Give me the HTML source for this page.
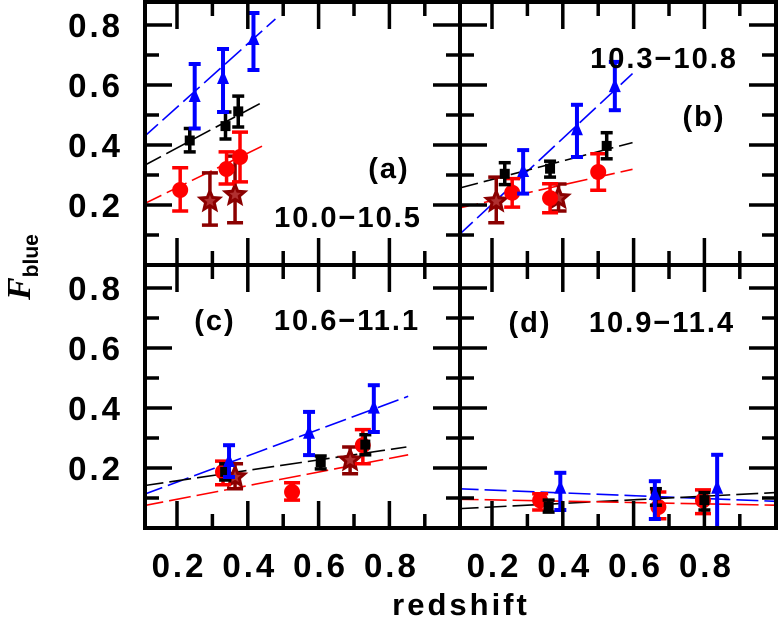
<!DOCTYPE html>
<html><head><meta charset="utf-8">
<style>
html,body{margin:0;padding:0;background:#fff;}
svg{display:block;font-family:"Liberation Sans",sans-serif;font-weight:bold;}
</style></head>
<body>
<svg id="chart" width="778" height="620" viewBox="0 0 778 620" xmlns="http://www.w3.org/2000/svg">
<g id="marks"></g>
<g id="frames"></g>
<g id="labels"></g>
</svg>
<script>
// Panel data: [x, y, errLow(value), errHigh(value)]
const panelIds = ['a','b','c','d'];
const blueA = [[0.25,0.56,0.455,0.67],[0.33,0.62,0.51,0.72],[0.416,0.75,0.65,0.84]];
const blackA = [[0.236,0.415,0.377,0.455],[0.337,0.463,0.42,0.51],[0.373,0.512,0.46,0.563]];
const redA = [[0.209,0.25,0.18,0.324],[0.34,0.32,0.27,0.377],[0.378,0.36,0.277,0.443]];
const starA = [[0.293,0.213,0.133,0.307],[0.364,0.234,0.141,0.363]];
const blueFitA = [[0.1,0.42],[0.478,0.82]];
const blackFitA = [[0.1,0.327],[0.442,0.543]];
const redFitA = [[0.1,0.2],[0.442,0.397]];

const blueB = [[0.288,0.31,0.238,0.383],[0.44,0.449,0.36,0.534],[0.547,0.593,0.516,0.677]];
const blackB = [[0.236,0.304,0.268,0.341],[0.364,0.321,0.293,0.346],[0.524,0.397,0.354,0.441]];
const redB = [[0.257,0.241,0.193,0.288],[0.364,0.223,0.174,0.271],[0.5,0.31,0.249,0.371]];
const starB = [[0.212,0.212,0.141,0.293],[0.388,0.223,0.18,0.27]];
const blueFitB = [[0.1,0.093],[0.597,0.638]];
const blackFitB = [[0.1,0.254],[0.597,0.408]];
const redFitB = [[0.1,0.188],[0.597,0.319]];

const blueC = [[0.347,0.22,0.17,0.276],[0.573,0.314,0.243,0.387],[0.756,0.398,0.32,0.476]];
const blackC = [[0.336,0.187,0.16,0.214],[0.606,0.22,0.197,0.24],[0.732,0.278,0.244,0.311]];
const redC = [[0.33,0.187,0.144,0.223],[0.525,0.12,0.093,0.151],[0.725,0.276,0.214,0.328]];
const starC = [[0.364,0.17,0.131,0.214],[0.689,0.226,0.181,0.27]];
const blueFitC = [[0.1,0.109],[0.853,0.439]];
const blackFitC = [[0.1,0.14],[0.848,0.27]];
const redFitC = [[0.1,0.073],[0.853,0.244]];

const blueD = [[0.393,0.131,0.06,0.184],[0.66,0.11,0.03,0.156],[0.836,0.131,0.0,0.244]];
const blackD = [[0.36,0.07,0.053,0.093],[0.663,0.109,0.076,0.131],[0.8,0.093,0.06,0.118]];
const redD = [[0.336,0.092,0.06,0.114],[0.67,0.07,0.031,0.12],[0.796,0.092,0.048,0.127]];
const starD = [];
const blueFitD = [[0.1,0.131],[1.0,0.089]];
const blackFitD = [[0.1,0.064],[1.0,0.118]];
const redFitD = [[0.1,0.096],[1.0,0.076]];

const xTickLabels = ['0.2','0.4','0.6','0.8'];
const yTickLabels = ['0.2','0.4','0.6','0.8'];
const panelTitles = ['10.0\u221210.5','10.3\u221210.8','10.6\u221211.1','10.9\u221211.4'];

const NS='http://www.w3.org/2000/svg';
const panels = [
 {id:'a',left:145,right:460,top:2,bottom:263,x0:177,blue:blueA,black:blackA,red:redA,star:starA,bf:blueFitA,kf:blackFitA,rf:redFitA},
 {id:'b',left:460,right:776,top:2,bottom:263,x0:492,blue:blueB,black:blackB,red:redB,star:starB,bf:blueFitB,kf:blackFitB,rf:redFitB},
 {id:'c',left:145,right:460,top:265,bottom:526,x0:177,blue:blueC,black:blackC,red:redC,star:starC,bf:blueFitC,kf:blackFitC,rf:redFitC},
 {id:'d',left:460,right:776,top:265,bottom:526,x0:492,blue:blueD,black:blackD,red:redD,star:starD,bf:blueFitD,kf:blackFitD,rf:redFitD}
];
const XS=354, YS=300;
function mk(tag,attrs,parent){const e=document.createElementNS(NS,tag);for(const k in attrs)e.setAttribute(k,attrs[k]);parent.appendChild(e);return e;}
const marks=document.getElementById('marks'), frames=document.getElementById('frames'), labels=document.getElementById('labels');

panels.forEach(p=>{
  const X=v=>p.x0+(v-0.2)*XS;
  const Y=v=>p.bottom+2-v*YS;
  const g=mk('g',{},marks);
  
  
  const clipId='clip'+p.id;
  const cp=mk('clipPath',{id:clipId},g);
  mk('rect',{x:p.left,y:p.top,width:p.right-p.left,height:p.bottom-p.top+2},cp);
  const gg=mk('g',{'clip-path':'url(#'+clipId+')'},g);
  [[p.bf,'#0000ff','blue-fit-line'],[p.kf,'#000','black-fit-line'],[p.rf,'#ff0000','red-fit-line']].forEach(([f,c,n])=>{
    const l=mk('line',{x1:X(f[0][0]),y1:Y(f[0][1]),x2:X(f[1][0]),y2:Y(f[1][1]),stroke:c,'stroke-width':1.6,'stroke-dasharray':'22 6'},gg);
    
    
  });
  function ebar(d,c,cap,w,parent){
    mk('line',{x1:X(d[0]),x2:X(d[0]),y1:Y(d[2]),y2:Y(d[3]),stroke:c,'stroke-width':w},parent);
    mk('line',{x1:X(d[0])-cap,x2:X(d[0])+cap,y1:Y(d[2]),y2:Y(d[2]),stroke:c,'stroke-width':w},parent);
    mk('line',{x1:X(d[0])-cap,x2:X(d[0])+cap,y1:Y(d[3]),y2:Y(d[3]),stroke:c,'stroke-width':w},parent);
  }
  p.star.forEach(d=>{
    const s=mk('g',{},gg);
    
    
    ebar(d,'#8b0000',8,3.5,s);
    const cx=X(d[0]),cy=Y(d[1]);let pts=[];
    for(let i=0;i<10;i++){const r=i%2?4.5:10,a=-Math.PI/2+i*Math.PI/5;pts.push((cx+r*Math.cos(a)).toFixed(1)+','+(cy+r*Math.sin(a)).toFixed(1));}
    mk('polygon',{points:pts.join(' '),fill:'#b03030',stroke:'#8b0000','stroke-width':3},s);
  });
  p.red.forEach(d=>{
    const s=mk('g',{},gg);
    
    
    ebar(d,'#ff0000',8,3.5,s);
    mk('circle',{cx:X(d[0]),cy:Y(d[1]),r:8,fill:'#ff0000'},s);
  });
  p.black.forEach(d=>{
    const s=mk('g',{},gg);
    
    
    ebar(d,'#000',6,3.5,s);
    mk('rect',{x:X(d[0])-5,y:Y(d[1])-5,width:10,height:10,fill:'#000'},s);
  });
  p.blue.forEach(d=>{
    const s=mk('g',{},gg);
    
    
    ebar(d,'#0000ff',6,4,s);
    const cx=X(d[0]),cy=Y(d[1]);
    mk('polygon',{points:`${cx},${cy-9} ${cx-6},${cy+5} ${cx+6},${cy+5}`,fill:'#0000ff'},s);
  });
  const f=mk('g',{},frames);
  
  
  mk('rect',{x:p.left,y:p.top,width:p.right-p.left,height:p.bottom+2-p.top,fill:'none',stroke:'#000','stroke-width':4},f);
  for(let i=1;i<=8;i++){
    const v=0.1*i+0.1; const x=X(v); if(x<=p.left+2||x>=p.right-2) continue;
    const L=(i%2===1)?27:14;
    mk('line',{x1:x,x2:x,y1:p.bottom+2,y2:p.bottom+2-L,stroke:'#000','stroke-width':3.5},f);
    mk('line',{x1:x,x2:x,y1:p.top,y2:p.top+L,stroke:'#000','stroke-width':3.5},f);
  }
  for(let i=1;i<=8;i++){
    const v=0.1*i; const y=Y(v); if(y<=p.top+2) continue;
    const L=(i%2===0)?27:14;
    mk('line',{x1:p.left,x2:p.left+L,y1:y,y2:y,stroke:'#000','stroke-width':3.5},f);
    mk('line',{x1:p.right,x2:p.right-L,y1:y,y2:y,stroke:'#000','stroke-width':3.5},f);
  }
  if(p.left===145){
    yTickLabels.forEach(t=>{
      const tx=mk('text',{x:123,y:Y(parseFloat(t))+12,'text-anchor':'end','font-size':33,'letter-spacing':3},labels);
      tx.textContent=t;
      
      
    });
  }
  if(p.bottom===526){
    xTickLabels.forEach(t=>{
      const tx=mk('text',{x:X(parseFloat(t))+2,y:577,'text-anchor':'middle','font-size':33,'letter-spacing':3},labels);
      tx.textContent=t;
      
      
    });
  }
});
function lab(txt,x,y,size,name,ls){
  const t=mk('text',{x:x,y:y,'text-anchor':'middle','font-size':size,'letter-spacing':ls||2},labels);
  t.textContent=txt;
  
  
}
lab('(a)',389,178,29,'panel-a-label');
lab(panelTitles[0],348,227,29,'panel-a-mass-range');
lab(panelTitles[1],664,68,29,'panel-b-mass-range');
lab('(b)',704,126,29,'panel-b-label');
lab('(c)',215,330,29,'panel-c-label');
lab(panelTitles[2],347,330,29,'panel-c-mass-range');
lab('(d)',530,332,29,'panel-d-label');
lab(panelTitles[3],662,332,29,'panel-d-mass-range');
lab('redshift',461,615,31,'x-axis-title',3);
const yt=mk('text',{transform:'translate(30,300) rotate(-90)','font-size':34},labels);


const ts1=mk('tspan',{'font-style':'italic','font-family':'Liberation Serif, serif'},yt);ts1.textContent='F';
const ts2=mk('tspan',{dy:8,'font-size':21},yt);ts2.textContent='blue';
</script>
</body></html>
